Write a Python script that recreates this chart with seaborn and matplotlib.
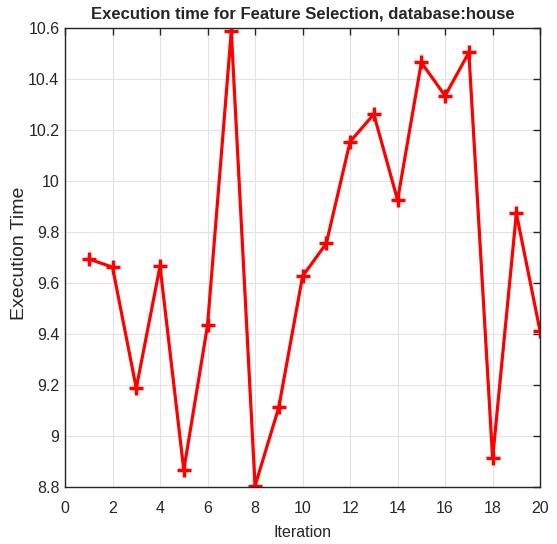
import numpy as np
import pandas as pd
import matplotlib
matplotlib.use("Agg")
import matplotlib.pyplot as plt
import seaborn as sns

iterations = list(range(1, 21))
exec_time = [9.694, 9.662, 9.187, 9.666, 8.866, 9.434, 10.587, 8.804, 9.112, 9.626,
             9.755, 10.154, 10.262, 9.925, 10.465, 10.334, 10.504, 8.912, 9.873, 9.410]
x_ticks = list(range(0, 21, 2))
y_ticks = [8.8, 9.0, 9.2, 9.4, 9.6, 9.8, 10.0, 10.2, 10.4, 10.6]
y_labels = ['8.8', '9', '9.2', '9.4', '9.6', '9.8', '10', '10.2', '10.4', '10.6']

df = pd.DataFrame({'Iteration': iterations, 'Time': exec_time})

sns.set_style('white')
plt.rcParams['font.family'] = ['Liberation Sans', 'DejaVu Sans']

fig = plt.figure(figsize=(5.57, 5.44), dpi=100)
ax = fig.add_axes([0.1167, 0.105, 0.853, 0.8435])

sns.lineplot(data=df, x='Iteration', y='Time', ax=ax, color='red', linewidth=2.3,
             marker='+', markersize=10, markeredgewidth=2.5, markeredgecolor='red')

ax.set_xlim(0, 20)
ax.set_ylim(8.8, 10.6)
ax.set_xticks(x_ticks)
ax.set_yticks(y_ticks)
ax.set_yticklabels(y_labels)
ax.grid(True, color='#e3e3e3', linewidth=0.8)
ax.set_axisbelow(True)
for s in ax.spines.values():
    s.set_color('#262626')
    s.set_linewidth(1.0)
ax.tick_params(direction='in', length=5, width=1, colors='#262626', labelsize=11.5,
               top=True, right=True, labelcolor='#262626')
ax.tick_params(axis='x', pad=10)
ax.tick_params(axis='y', pad=4)

ax.set_xlabel('Iteration', fontsize=11.5, color='#262626')
ax.xaxis.set_label_coords(0.5, -0.083)
ax.set_ylabel('Execution Time', fontsize=14, color='#262626')
ax.yaxis.set_label_coords(-0.077, 0.51)
ax.set_title('Execution time for Feature Selection, database:house', fontsize=12,
             fontweight='bold', pad=7)

fig.savefig('out.png', dpi=100)
